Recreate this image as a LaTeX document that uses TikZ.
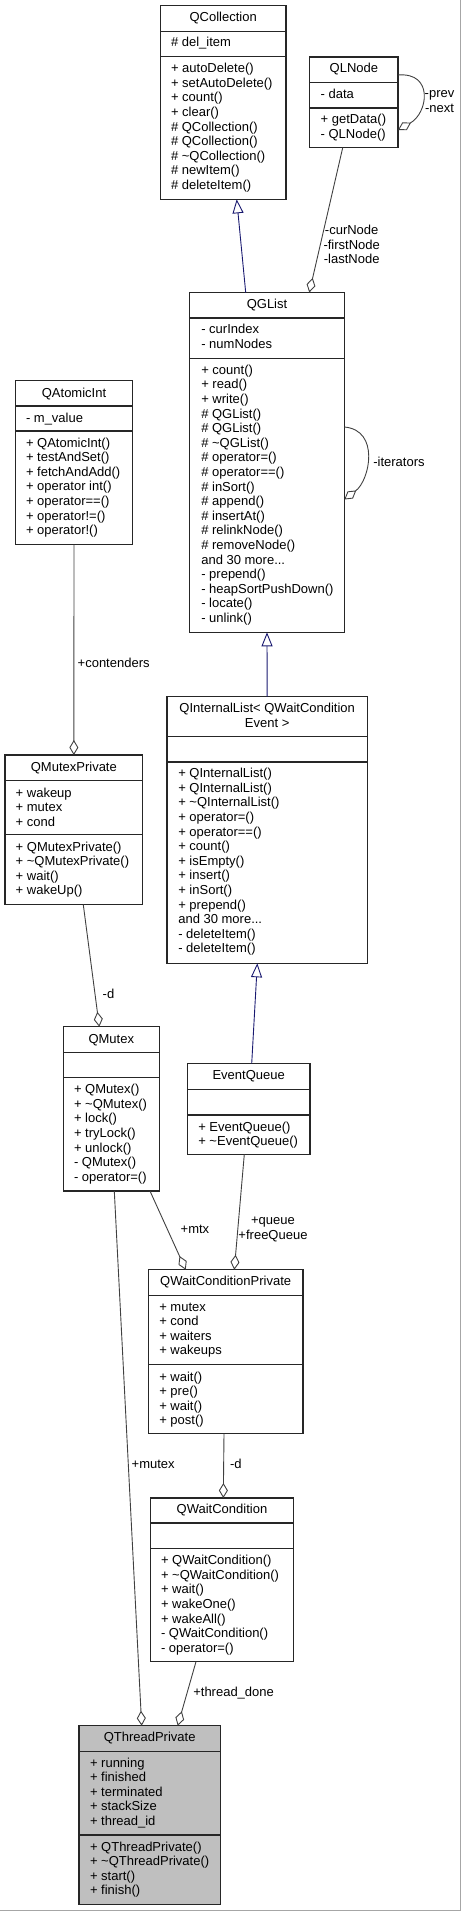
\documentclass[tikz,border=0pt]{standalone}
\usepackage{fontspec}
\setmainfont{Liberation Sans}
\usetikzlibrary{arrows.meta,calc}
\definecolor{midblue}{RGB}{25,25,112}
\definecolor{boxgray}{RGB}{191,191,191}
\definecolor{edgegray}{RGB}{64,64,64}
\newcommand\moretxt{and 30 more...}
\tikzset{
 box/.style={draw=black!85, line width=1.1pt, inner sep=0pt, outer sep=0pt, anchor=north west},
 sepl/.style={draw=black!85, line width=1.1pt},
 txt/.style={inner sep=0pt, outer sep=0pt, font=\fontsize{13}{14.6}\selectfont, text=black},
 lbl/.style={txt, align=center},
 agg/.style={draw=edgegray, line width=0.9pt, -{Diamond[open,length=15pt,width=9pt,line width=0.9pt]}},
 inh/.style={draw=midblue, line width=0.9pt, -{Triangle[open,length=14pt,width=11pt,line width=0.9pt]}},
}
\newcommand\umlbox[8]{%
  \pgfmathsetmacro\bw{#4-#2}\pgfmathsetmacro\bh{#5-#3}%
  \node[box,#8,minimum width=\bw pt,minimum height=\bh pt] (#1) at (#2,#3) {};
  \draw[sepl] (#2,#6) -- (#4,#6);
  \draw[sepl] (#2,#7) -- (#4,#7);}
\newcommand\umlrows[4]{%
  \foreach \t [count=\i] in {#4}{\node[txt,anchor=base west] (#1\i) at (#2,{#3+14.6*(\i-1)}) {\t};}}
\begin{document}
\begin{tikzpicture}[x=1pt,y=-1pt]
\useasboundingbox (0,0) rectangle (461,1911);
\draw[gray!70, line width=0.8pt] (460.3,0) -- (460.3,1910.3) -- (0,1910.3);

% QCollection
\umlbox{qcol}{160.3}{5.7}{286}{199.3}{31.3}{56.7}{fill=white}
\node[txt,anchor=base] (qcolT) at (223.2,21.6) {QCollection};
\umlrows{qcolA}{171}{47}{\# del\_item}
\umlrows{qcolM}{171}{72.6}{+ autoDelete(),+ setAutoDelete(),+ count(),+ clear(),\# QCollection(),\# QCollection(),\# \textasciitilde QCollection(),\# newItem(),\# deleteItem()}

% QLNode
\umlbox{qlnode}{309.7}{57}{398}{147.7}{82.7}{108}{fill=white}
\node[txt,anchor=base] (qlnodeT) at (353.9,72.6) {QLNode};
\umlrows{qlnodeA}{320.7}{99}{- data}
\umlrows{qlnodeM}{320.7}{123.6}{+ getData(),- QLNode()}

% QGList
\umlbox{qglist}{189.7}{292.5}{344.3}{632.3}{318}{358.3}{fill=white}
\node[txt,anchor=base] (qglistT) at (267,308.6) {QGList};
\umlrows{qglistA}{201.3}{333.6}{- curIndex,- numNodes}
\umlrows{qglistM}{201.3}{374.3}{+ count(),+ read(),+ write(),\# QGList(),\# QGList(),\# \textasciitilde QGList(),\# operator=(),\# operator==(),\# inSort(),\# append(),\# insertAt(),\# relinkNode(),\# removeNode(),\moretxt,- prepend(),- heapSortPushDown(),- locate(),- unlink()}

% QAtomicInt
\umlbox{qatomic}{15.3}{380.7}{132.7}{544.7}{406}{431}{fill=white}
\node[txt,anchor=base] (qatomicT) at (74,397) {QAtomicInt};
\umlrows{qatomicA}{26}{422}{- m\_value}
\umlrows{qatomicM}{26}{447}{+ QAtomicInt(),+ testAndSet(),+ fetchAndAdd(),+ operator int(),+ operator==(),+ operator!=(),+ operator!()}

% QInternalList
\umlbox{qil}{167}{696.7}{367.3}{963.3}{736.7}{762}{fill=white}
\node[txt,anchor=base] (qilT1) at (267.2,712.6) {QInternalList< QWaitCondition};
\node[txt,anchor=base] (qilT2) at (267.2,727) {Event >};
\umlrows{qilM}{178.3}{777.6}{+ QInternalList(),+ QInternalList(),+ \textasciitilde QInternalList(),+ operator=(),+ operator==(),+ count(),+ isEmpty(),+ insert(),+ inSort(),+ prepend(),\moretxt,- deleteItem(),- deleteItem()}

% QMutexPrivate
\umlbox{qmp}{5}{755}{142.7}{904.7}{780.7}{834.7}{fill=white}
\node[txt,anchor=base] (qmpT) at (73.85,771) {QMutexPrivate};
\umlrows{qmpA}{15.7}{797}{+ wakeup,+ mutex,+ cond}
\umlrows{qmpM}{15.7}{851}{+ QMutexPrivate(),+ \textasciitilde QMutexPrivate(),+ wait(),+ wakeUp()}

% QMutex
\umlbox{qmutex}{63.3}{1026.7}{159.3}{1191}{1052.7}{1077.7}{fill=white}
\node[txt,anchor=base] (qmutexT) at (111.3,1043) {QMutex};
\umlrows{qmutexM}{74}{1093.6}{+ QMutex(),+ \textasciitilde QMutex(),+ lock(),+ tryLock(),+ unlock(),- QMutex(),- operator=()}

% EventQueue
\umlbox{evq}{187.3}{1063.7}{310}{1154.3}{1089.3}{1115}{fill=white}
\node[txt,anchor=base] (evqT) at (248.65,1079.3) {EventQueue};
\umlrows{evqM}{198.3}{1131}{+ EventQueue(),+ \textasciitilde EventQueue()}

% QWaitConditionPrivate
\umlbox{qwcp}{148.3}{1269.7}{303}{1433.7}{1295.3}{1364.3}{fill=white}
\node[txt,anchor=base] (qwcpT) at (225.65,1285.3) {QWaitConditionPrivate};
\umlrows{qwcpA}{159.3}{1311}{+ mutex,+ cond,+ waiters,+ wakeups}
\umlrows{qwcpM}{159.3}{1381}{+ wait(),+ pre(),+ wait(),+ post()}

% QWaitCondition
\umlbox{qwc}{150.7}{1498}{293.3}{1661.7}{1523}{1548.3}{fill=white}
\node[txt,anchor=base] (qwcT) at (222,1513.6) {QWaitCondition};
\umlrows{qwcM}{161}{1564.6}{+ QWaitCondition(),+ \textasciitilde QWaitCondition(),+ wait(),+ wakeOne(),+ wakeAll(),- QWaitCondition(),- operator=()}

% QThreadPrivate
\umlbox{qtp}{79}{1725.7}{220.3}{1904.3}{1751.3}{1835}{fill=boxgray}
\node[txt,anchor=base] (qtpT) at (149.65,1741.6) {QThreadPrivate};
\umlrows{qtpA}{90}{1767}{+ running,+ finished,+ terminated,+ stackSize,+ thread\_id}
\umlrows{qtpM}{90}{1851}{+ QThreadPrivate(),+ \textasciitilde QThreadPrivate(),+ start(),+ finish()}

% inheritance
\draw[inh] ([xshift=56pt]qglist.north west) -- ([xshift=76.4pt]qcol.south west);
\draw[inh] (qil.north) -- (qglist.south);
\draw[inh] ([xshift=64.4pt]evq.north west) -- ([xshift=90.3pt]qil.south west);

% aggregations
\draw[agg] ([xshift=33pt]qlnode.south west) -- ([xshift=119.6pt]qglist.north west);
\node[lbl] (l1) at (351.7,244.7) {-curNode\\-firstNode\\-lastNode};

\draw[agg] ([yshift=-18pt]qlnode.north east) .. controls (434,72) and (428,113) .. ([yshift=17.7pt]qlnode.south east);
\node[lbl] (l2) at (439.5,101.7) {-prev\\-next};

\draw[agg] ([yshift=-134.5pt]qglist.north east) .. controls (380,430) and (370,480) .. ([yshift=-207pt]qglist.north east);
\node[txt,anchor=west] (l3) at (373.3,461.7) {-iterators};

\draw[agg] (qatomic.south) -- (qmp.north);
\node[txt,anchor=west] (l4) at (77.7,663.3) {+contenders};

\draw[agg] ([xshift=78.3pt]qmp.south west) -- ([xshift=36pt]qmutex.north west);
\node[txt,anchor=west] (l5) at (102.7,994.3) {-d};

\draw[agg] ([xshift=86.7pt]qmutex.south west) -- ([xshift=37.4pt]qwcp.north west);
\node[txt,anchor=west] (l6) at (180.7,1229.3) {+mtx};

\draw[agg] ([xshift=57pt]evq.south west) -- ([xshift=86pt]qwcp.north west);
\node[lbl] (l7) at (273,1229.7) {+queue\\+freeQueue};

\draw[agg] ([xshift=51pt]qmutex.south west) -- ([xshift=62.7pt]qtp.north west);
\node[txt,anchor=west] (l8) at (131.7,1464.3) {+mutex};

\draw[agg] ([xshift=75.7pt]qwcp.south west) -- ([xshift=72.6pt]qwc.north west);
\node[txt,anchor=west] (l9) at (230,1464.3) {-d};

\draw[agg] ([xshift=45.3pt]qwc.south west) -- ([xshift=98.7pt]qtp.north west);
\node[txt,anchor=west] (l10) at (193.3,1692.7) {+thread\_done};
\end{tikzpicture}
\end{document}
